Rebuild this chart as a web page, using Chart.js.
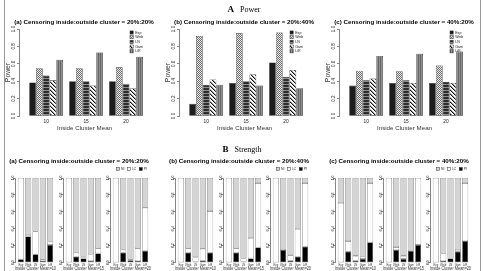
<!DOCTYPE html>
<html>
<head>
<meta charset="utf-8">
<script src="https://cdn.jsdelivr.net/npm/chart.js@4.4.1/dist/chart.umd.min.js"></script>
<style>
  html, body { margin: 0; padding: 0; background: #fff; }
  #fig { position: relative; width: 483px; height: 271px; overflow: hidden; font-family: "Liberation Sans", Arial, sans-serif; }
  .frame { position: absolute; left: 4px; top: 0; width: 475px; height: 271px; border-left: 1px solid #999; border-right: 1px solid #999; }
  canvas { position: absolute; }
  .hdr { position: absolute; font-family: "Liberation Serif", "Times New Roman", serif; font-size: 8px; line-height: 10px; white-space: nowrap; transform: translateX(-50%); z-index: 2; }
  .hdr b { margin-right: 6px; font-size: 9px; }
  .ttl { position: absolute; font-weight: bold; font-size: 6.2px; line-height: 8px; white-space: nowrap; transform: translateX(-50%); z-index: 2; }
</style>
</head>
<body>
<div id="fig">
  <div class="frame"></div>
  <div class="hdr" style="left:244px; top:4px"><b>A</b>Power</div>
  <div class="hdr" style="left:242px; top:144px"><b>B</b>Strength</div>
</div>
<script>
// Methods compared, cluster means on the x axis, scenario titles
const methods = ['Exp', 'Weib', 'LN', 'Gam', 'LiR'];
const clusterMeans = [10, 15, 20];
const yTicks = [0, 0.2, 0.4, 0.6, 0.8, 1.0];
const scenarios = [
  '(a) Censoring inside:outside cluster = 20%:20%',
  '(b) Censoring inside:outside cluster = 20%:40%',
  '(c) Censoring inside:outside cluster = 40%:20%'
];
const strengthParts = ['PI', 'LC', 'NI'];

// Power: one row per method, columns = cluster mean 10, 15, 20
const powerA = [
  [0.385, 0.40, 0.40],
  [0.55, 0.55, 0.56],
  [0.465, 0.40, 0.37],
  [0.41, 0.35, 0.32],
  [0.646, 0.73, 0.68]
];
const powerB = [
  [0.14, 0.38, 0.615],
  [0.92, 0.95, 0.96],
  [0.36, 0.40, 0.45],
  [0.42, 0.48, 0.53],
  [0.36, 0.35, 0.32]
];
const powerC = [
  [0.35, 0.38, 0.38],
  [0.52, 0.515, 0.58],
  [0.41, 0.41, 0.39],
  [0.43, 0.38, 0.38],
  [0.69, 0.715, 0.74]
];

// Strength: one row per cluster mean (10, 15, 20), columns = methods
const strengthA_PI = [[0.04, 0.31, 0.10, 0.02, 0.21], [0.00, 0.07, 0.05, 0.02, 0.11], [0.00, 0.12, 0.03, 0.02, 0.14]];
const strengthA_LC = [[0.96, 0.02, 0.27, 0.02, 0.04], [1.00, 0.05, 0.02, 0.08, 0.06], [1.00, 0.035, 0.01, 0.15, 0.51]];
const strengthA_NI = [[0.00, 0.67, 0.63, 0.96, 0.75], [0.00, 0.88, 0.93, 0.90, 0.83], [0.00, 0.845, 0.96, 0.83, 0.35]];
const strengthB_PI = [[0.00, 0.12, 0.01, 0.025, 0.12], [0.00, 0.12, 0.01, 0.05, 0.18], [0.00, 0.15, 0.025, 0.07, 0.19]];
const strengthB_LC = [[1.00, 0.05, 0.055, 0.14, 0.49], [1.00, 0.05, 0.04, 0.24, 0.76], [1.00, 0.00, 0.065, 0.33, 0.75]];
const strengthB_NI = [[0.00, 0.83, 0.935, 0.835, 0.39], [0.00, 0.83, 0.95, 0.71, 0.06], [0.00, 0.85, 0.91, 0.60, 0.06]];
const strengthC_PI = [[0.00, 0.13, 0.025, 0.045, 0.24], [0.00, 0.15, 0.045, 0.14, 0.21], [0.00, 0.02, 0.05, 0.13, 0.255]];
const strengthC_LC = [[0.705, 0.125, 0.055, 0.025, 0.70], [1.00, 0.035, 0.035, 0.00, 0.79], [1.00, 0.09, 0.00, 0.02, 0.685]];
const strengthC_NI = [[0.295, 0.745, 0.92, 0.93, 0.06], [0.00, 0.815, 0.92, 0.86, 0.00], [0.00, 0.89, 0.95, 0.85, 0.06]];

const powerSets = [powerA, powerB, powerC];
const strengthSets = [
  [strengthA_PI, strengthA_LC, strengthA_NI],
  [strengthB_PI, strengthB_LC, strengthB_NI],
  [strengthC_PI, strengthC_LC, strengthC_NI]
];

const FONT = '"Liberation Sans", Arial, sans-serif';
Chart.defaults.font.family = FONT;
Chart.defaults.color = '#111';

const fig = document.getElementById('fig');
const panelX = [0, 160, 320];

// Small repeating fills that mimic the hatched bars
function makePattern(size, paint) {
  const c = document.createElement('canvas');
  c.width = c.height = size;
  const g = c.getContext('2d');
  for (let y = 0; y < size; y++) {
    for (let x = 0; x < size; x++) {
      g.fillStyle = paint(x, y);
      g.fillRect(x, y, 1, 1);
    }
  }
  return g.createPattern(c, 'repeat');
}
const fills = {
  Exp: '#1c1c1c',
  Weib: makePattern(2, (x, y) => ((x + y) % 2 ? '#e8e8e8' : '#6f6f6f')),
  LN: makePattern(3, (x, y) => (y === 2 ? '#8c8c8c' : '#2c2c2c')),
  Gam: makePattern(4, (x, y) => {
    const d = ((x - y) % 4 + 4) % 4;
    return d === 0 ? '#111' : d === 1 ? '#9a9a9a' : '#fff';
  }),
  LiR: makePattern(2, (x) => (x ? '#909090' : '#666'))
};
const partFills = { PI: '#000', LC: '#fff', NI: '#d4d4d4' };

// Legend drawn as small boxes (vertical list or single row)
const boxLegend = {
  id: 'boxLegend',
  beforeDatasetsDraw(chart, args, o) {
    if (!o || !o.show) return;
    const { ctx, chartArea: a } = chart;
    const sets = chart.data.datasets.slice();
    if (o.reverse) sets.reverse();
    ctx.save();
    ctx.font = `${o.size}px ${FONT}`;
    ctx.textBaseline = 'middle';
    ctx.lineWidth = 0.5;
    const drawEntry = (d, x, y) => {
      ctx.fillStyle = d.backgroundColor;
      ctx.fillRect(x, y - o.box / 2, o.box, o.box);
      ctx.strokeStyle = '#333';
      ctx.strokeRect(x, y - o.box / 2, o.box, o.box);
      ctx.fillStyle = '#222';
      ctx.fillText(d.label, x + o.box + o.gap, y);
    };
    if (o.horizontal) {
      const widths = sets.map(d => o.box + o.gap + ctx.measureText(d.label).width);
      const total = widths.reduce((s, w) => s + w, 0) + o.spacing * (sets.length - 1);
      let x = a.right + o.dx - total;
      sets.forEach((d, i) => {
        drawEntry(d, x, a.top + o.dy);
        x += widths[i] + o.spacing;
      });
    } else {
      let y = a.top + o.dy;
      sets.forEach(d => {
        drawEntry(d, a.right + o.dx, y);
        y += o.step;
      });
    }
    ctx.restore();
  }
};
Chart.register(boxLegend);

function addCanvas(left, top, w, h) {
  const c = document.createElement('canvas');
  c.width = w;
  c.height = h;
  c.style.left = left + 'px';
  c.style.top = top + 'px';
  fig.appendChild(c);
  return c;
}

function addTitle(text, cx, top) {
  const d = document.createElement('div');
  d.className = 'ttl';
  d.textContent = text;
  d.style.left = cx + 'px';
  d.style.top = top + 'px';
  fig.appendChild(d);
}

function yAxis(width, fontSize, title, titleSize, pad) {
  return {
    min: 0,
    max: 1,
    afterBuildTicks: s => { s.ticks = yTicks.map(v => ({ value: v })); },
    afterFit: s => { s.width = width; },
    ticks: {
      callback: v => v.toFixed(1),
      minRotation: 90,
      maxRotation: 90,
      crossAlign: 'center',
      padding: pad,
      font: { size: fontSize },
      color: '#222'
    },
    grid: { drawOnChartArea: false, tickLength: 2, color: '#333', lineWidth: 0.6 },
    border: { color: '#333', width: 0.6 },
    title: title
      ? { display: true, text: title, font: { size: titleSize }, color: '#333', padding: { top: 4, bottom: 0 } }
      : { display: false }
  };
}

// Top row: grouped power bars (chart area x 19..150 inside each panel)
powerSets.forEach((rows, s) => {
  const el = addCanvas(panelX[s], 16, 160, 118);
  addTitle(scenarios[s], panelX[s] + 84, 18);
  new Chart(el, {
    type: 'bar',
    data: {
      datasets: methods.map((m, i) => ({
        label: m,
        data: clusterMeans.map((x, j) => ({ x, y: rows[i][j] })),
        backgroundColor: fills[m],
        borderColor: '#222',
        borderWidth: 0.6,
        borderSkipped: false,
        barPercentage: 1,
        categoryPercentage: 0.85
      }))
    },
    options: {
      responsive: false,
      animation: false,
      devicePixelRatio: 1,
      layout: { padding: { top: 13, right: 10, left: 0, bottom: 0 } },
      plugins: {
        legend: { display: false },
        tooltip: { enabled: false },
        boxLegend: { show: true, dx: -20, dy: 3.5, step: 4.7, box: 3.2, gap: 2, size: 3.6 }
      },
      scales: {
        x: {
          type: 'linear',
          offset: false,
          min: 6.6,
          max: 23,
          afterBuildTicks: sc => { sc.ticks = clusterMeans.map(v => ({ value: v })); },
          afterFit: sc => { sc.height = 18; },
          grid: { display: false, drawTicks: false },
          border: { display: false },
          ticks: { font: { size: 4.8 }, padding: 2.5, color: '#222', callback: v => String(v) },
          title: { display: true, text: 'Inside Cluster Mean', font: { size: 6.2 }, color: '#333', padding: { top: 0, bottom: 2.2 } }
        },
        y: yAxis(19, 4.5, 'Power', 6.8, 0)
      }
    }
  });
});

// Bottom row: stacked strength bars, three sub-plots per scenario
strengthSets.forEach((parts, s) => {
  addTitle(scenarios[s], panelX[s] + 79, 157);
  clusterMeans.forEach((mean, k) => {
    const el = addCanvas(panelX[s] + Math.round(47.5 * k), 164, 60, 107);
    new Chart(el, {
      type: 'bar',
      data: {
        datasets: strengthParts.map((p, pi) => ({
          label: p,
          data: methods.map((m, i) => ({ x: i + 1, y: parts[pi][k][i] })),
          backgroundColor: partFills[p],
          borderColor: '#666',
          borderWidth: 0.6,
          borderSkipped: false,
          barPercentage: 0.833,
          categoryPercentage: 1
        }))
      },
      options: {
        responsive: false,
        animation: false,
        devicePixelRatio: 1,
        layout: { padding: { top: 14, right: 4, left: 0, bottom: 0 } },
        plugins: {
          legend: { display: false },
          tooltip: { enabled: false },
          boxLegend: { show: k === 2, horizontal: true, reverse: true, dx: -4, dy: -9, box: 3, gap: 1.5, spacing: 3, size: 3.4 }
        },
        scales: {
          x: {
            type: 'linear',
            offset: false,
            stacked: true,
            min: 0.2,
            max: 5.8,
            afterBuildTicks: sc => { sc.ticks = methods.map((m, i) => ({ value: i + 1 })); },
            afterFit: sc => { sc.height = 8.3; },
            grid: { display: false, drawTicks: false },
            border: { display: false },
            ticks: { font: { size: 2.8 }, padding: 1.3, color: '#333', autoSkip: false, maxRotation: 0, callback: (v, i) => methods[i] },
            title: { display: true, text: 'Inside Cluster Mean=' + mean, font: { size: 4.5 }, color: '#333', padding: { top: 0, bottom: 0 } }
          },
          y: Object.assign(yAxis(15, 3.4, null, 0, -2), { stacked: true })
        }
      }
    });
  });
});
</script>
</body>
</html>
